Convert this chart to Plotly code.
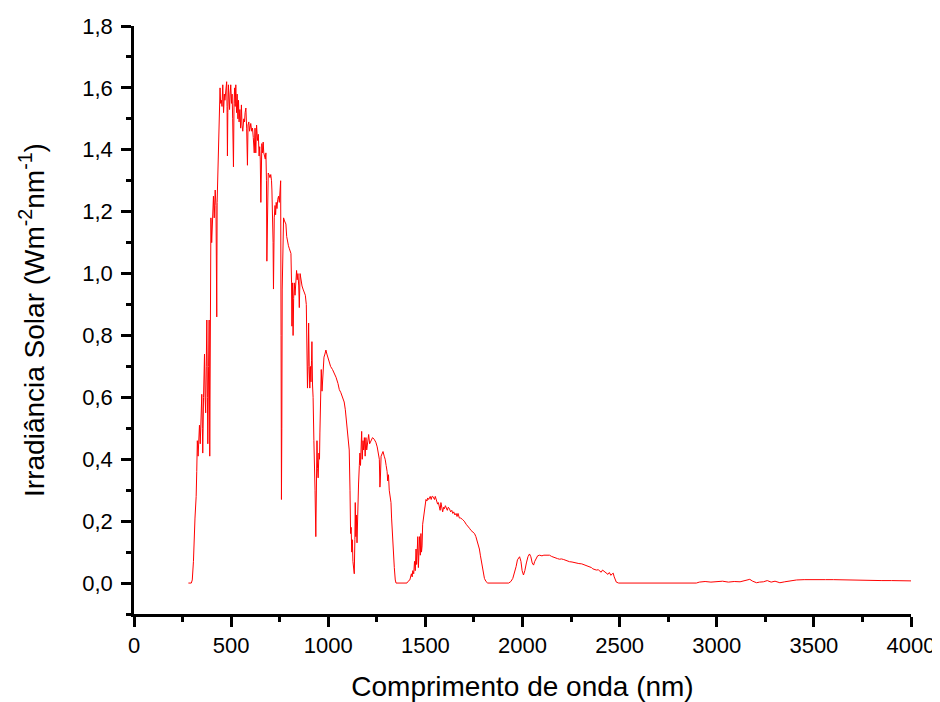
import plotly.graph_objects as go

wavelength = [
    280, 295, 300, 306, 314, 320, 323, 326, 330, 334, 337, 341, 345, 349, 352, 354, 358, 363, 366, 369,
    372, 375, 378, 380, 384, 387, 390, 393, 396, 400, 404, 409, 413, 418, 422, 426, 428, 431, 437, 440,
    443, 446, 450, 453, 457, 461, 465, 468, 472, 477, 479, 481, 483, 486, 489, 492, 495, 498, 502, 505,
    508, 512, 515, 518, 521, 524, 528, 531, 535, 538, 541, 545, 549, 553, 556, 560, 565, 569, 572, 576,
    580, 584, 587, 591, 595, 598, 601, 606, 610, 614, 619, 623, 627, 631, 636, 640, 644, 647, 650, 653,
    656, 658, 662, 665, 668, 672, 676, 679, 682, 684, 687, 691, 695, 700, 704, 708, 710, 713, 716, 718,
    720, 722, 726, 729, 732, 736, 740, 744, 748, 752, 755, 757, 759, 761, 763, 766, 770, 775, 782, 786,
    790, 795, 800, 805, 808, 811, 813, 816, 819, 822, 825, 829, 833, 837, 840, 844, 848, 851, 855, 860,
    865, 870, 876, 882, 887, 890, 893, 896, 899, 902, 905, 908, 911, 914, 916, 919, 922, 926, 929, 932,
    936, 939, 942, 945, 948, 952, 955, 957, 960, 964, 968, 971, 975, 978, 983, 988, 993, 998, 1005, 1012,
    1022, 1030, 1040, 1050, 1057, 1065, 1074, 1082, 1088, 1091, 1096, 1100, 1104, 1108, 1112, 1115, 1118, 1121, 1124, 1127,
    1130, 1134, 1137, 1139, 1142, 1145, 1148, 1151, 1154, 1156, 1160, 1163, 1166, 1169, 1172, 1175, 1179, 1182, 1186, 1190,
    1194, 1198, 1203, 1208, 1213, 1220, 1228, 1236, 1245, 1252, 1258, 1263, 1266, 1268, 1272, 1277, 1282, 1288, 1293, 1298,
    1303, 1306, 1310, 1314, 1318, 1323, 1326, 1329, 1332, 1336, 1340, 1345, 1349, 1405, 1410, 1420, 1428, 1432, 1435, 1440,
    1444, 1448, 1452, 1455, 1459, 1461, 1464, 1467, 1470, 1474, 1477, 1480, 1483, 1486, 1490, 1495, 1500, 1503, 1508, 1512,
    1517, 1521, 1525, 1530, 1534, 1538, 1542, 1547, 1551, 1555, 1559, 1563, 1567, 1572, 1576, 1580, 1584, 1589, 1594, 1598,
    1603, 1608, 1613, 1618, 1624, 1630, 1636, 1641, 1646, 1652, 1658, 1663, 1668, 1675, 1682, 1692, 1700, 1710, 1720, 1727,
    1735, 1745, 1753, 1760, 1765, 1770, 1778, 1783, 1787, 1792, 1797, 1804, 1812, 1821, 1929, 1940, 1950, 1958, 1967, 1974,
    1985, 1992, 1998, 2005, 2012, 2020, 2028, 2036, 2043, 2050, 2057, 2063, 2070, 2078, 2088, 2100, 2110, 2120, 2130, 2139,
    2150, 2160, 2170, 2180, 2191, 2200, 2212, 2225, 2242, 2255, 2265, 2277, 2290, 2305, 2320, 2335, 2345, 2355, 2362, 2370,
    2380, 2390, 2397, 2405, 2412, 2420, 2431, 2440, 2447, 2455, 2462, 2467, 2472, 2478, 2483, 2495, 2507, 2895, 2910, 2940,
    2970, 3000, 3030, 3060, 3090, 3120, 3150, 3170, 3185, 3205, 3220, 3240, 3260, 3280, 3300, 3325, 3350, 3380, 3411, 3450,
    3500, 3531, 3560, 3600, 3650, 3700, 3750, 3800, 3850, 3900, 3950, 4000,
]

irradiance = [
    0.0, 0.0, 0.01, 0.07, 0.21, 0.28, 0.36, 0.46, 0.41, 0.48, 0.51, 0.45, 0.55, 0.61, 0.50, 0.42, 0.60, 0.74, 0.60, 0.55,
    0.70, 0.85, 0.60, 0.45, 0.70, 0.85, 0.41, 0.90, 1.18, 1.10, 1.20, 1.25, 1.18, 1.27, 1.22, 0.86, 1.23, 1.30, 1.37, 1.45,
    1.60, 1.55, 1.56, 1.54, 1.61, 1.52, 1.58, 1.56, 1.605, 1.62, 1.54, 1.38, 1.52, 1.61, 1.57, 1.53, 1.58, 1.61, 1.55, 1.58,
    1.50, 1.345, 1.55, 1.60, 1.54, 1.61, 1.52, 1.58, 1.50, 1.56, 1.49, 1.53, 1.47, 1.545, 1.48, 1.46, 1.50, 1.49, 1.52, 1.535,
    1.47, 1.35, 1.48, 1.49, 1.46, 1.47, 1.485, 1.46, 1.47, 1.44, 1.39, 1.47, 1.39, 1.48, 1.43, 1.45, 1.38, 1.41, 1.37, 1.23,
    1.35, 1.42, 1.39, 1.425, 1.39, 1.38, 1.37, 1.39, 1.30, 1.04, 1.27, 1.325, 1.32, 1.31, 1.32, 1.30, 1.27, 1.20, 1.10, 0.95,
    1.15, 1.18, 1.22, 1.19, 1.23, 1.21, 1.24, 1.25, 1.23, 1.28, 1.30, 0.80, 0.27, 0.50, 0.95, 1.17, 1.18, 1.17, 1.16, 1.12,
    1.10, 1.09, 1.08, 1.07, 1.065, 0.97, 0.83, 0.97, 0.80, 0.92, 0.97, 0.93, 0.99, 1.01, 0.98, 1.00, 0.96, 0.89, 1.00, 0.97,
    0.96, 0.95, 0.94, 0.93, 0.90, 0.80, 0.63, 0.70, 0.84, 0.70, 0.63, 0.70, 0.65, 0.72, 0.78, 0.64, 0.60, 0.46, 0.40, 0.30,
    0.15, 0.30, 0.46, 0.37, 0.34, 0.42, 0.40, 0.485, 0.55, 0.69, 0.62, 0.66, 0.70, 0.73, 0.74, 0.753, 0.74, 0.73, 0.72, 0.70,
    0.69, 0.68, 0.665, 0.645, 0.625, 0.615, 0.60, 0.585, 0.56, 0.54, 0.51, 0.48, 0.46, 0.43, 0.30, 0.16, 0.18, 0.10, 0.14, 0.07,
    0.05, 0.03, 0.14, 0.26, 0.15, 0.22, 0.13, 0.23, 0.28, 0.32, 0.38, 0.42, 0.38, 0.44, 0.49, 0.40, 0.46, 0.43, 0.47, 0.41,
    0.47, 0.43, 0.45, 0.48, 0.45, 0.46, 0.47, 0.465, 0.455, 0.44, 0.41, 0.40, 0.31, 0.33, 0.41, 0.42, 0.425, 0.41, 0.40, 0.38,
    0.36, 0.33, 0.35, 0.30, 0.28, 0.26, 0.21, 0.17, 0.16, 0.12, 0.05, 0.01, 0.0, 0.0, 0.005, 0.01, 0.03, 0.02, 0.04, 0.03,
    0.07, 0.04, 0.11, 0.06, 0.13, 0.15, 0.05, 0.12, 0.15, 0.09, 0.16, 0.10, 0.12, 0.19, 0.21, 0.225, 0.25, 0.27, 0.265, 0.275,
    0.27, 0.275, 0.28, 0.27, 0.28, 0.28, 0.275, 0.27, 0.28, 0.27, 0.26, 0.255, 0.26, 0.25, 0.235, 0.26, 0.25, 0.23, 0.245, 0.24,
    0.25, 0.24, 0.235, 0.245, 0.24, 0.23, 0.235, 0.225, 0.23, 0.22, 0.225, 0.215, 0.225, 0.21, 0.21, 0.205, 0.20, 0.19, 0.18, 0.177,
    0.17, 0.165, 0.16, 0.15, 0.14, 0.13, 0.11, 0.09, 0.075, 0.05, 0.03, 0.015, 0.005, 0.0, 0.0, 0.005, 0.015, 0.03, 0.053, 0.075,
    0.085, 0.07, 0.04, 0.026, 0.04, 0.065, 0.085, 0.094, 0.085, 0.065, 0.058, 0.07, 0.08, 0.088, 0.09, 0.088, 0.09, 0.09, 0.088, 0.09,
    0.086, 0.083, 0.082, 0.079, 0.077, 0.078, 0.076, 0.072, 0.069, 0.068, 0.066, 0.064, 0.063, 0.062, 0.058, 0.056, 0.053, 0.05, 0.046, 0.044,
    0.042, 0.043, 0.038, 0.035, 0.042, 0.038, 0.032, 0.028, 0.034, 0.025, 0.03, 0.032, 0.02, 0.01, 0.003, 0.0, 0.0, 0.0, 0.003, 0.005,
    0.003, 0.004, 0.006, 0.003, 0.005, 0.004, 0.008, 0.012, 0.006, 0.001, 0.003, 0.004, 0.008, 0.003, 0.006, 0.001, 0.004, 0.007, 0.01, 0.011,
    0.012, 0.012, 0.011, 0.011, 0.01, 0.01, 0.009, 0.009, 0.008, 0.008, 0.008, 0.007,
]

x_tick_vals = [0, 500, 1000, 1500, 2000, 2500, 3000, 3500, 4000]
y_tick_vals = [0.0, 0.2, 0.4, 0.6, 0.8, 1.0, 1.2, 1.4, 1.6, 1.8]
y_tick_text = ["0,0", "0,2", "0,4", "0,6", "0,8", "1,0", "1,2", "1,4", "1,6", "1,8"]

fig = go.Figure()
fig.add_trace(go.Scatter(
    x=wavelength, y=irradiance, mode="lines",
    line=dict(color="#ff0000", width=1),
    showlegend=False,
))

font_family = "Liberation Sans, Arial, sans-serif"

# page body has an 8px default margin, so the figure is offset by 8px
fig.update_layout(
    width=940, height=702,
    margin=dict(l=126, r=37, t=18, b=96),
    paper_bgcolor="white", plot_bgcolor="white",
    font=dict(family=font_family, color="black", size=22),
    xaxis=dict(
        range=[0, 4000], tickvals=x_tick_vals, automargin=False,
        showline=True, linecolor="black", linewidth=2.5,
        ticks="outside", ticklen=10, tickwidth=2.5, tickcolor="black",
        minor=dict(dtick=250, ticks="outside", ticklen=5, tickwidth=2.5, tickcolor="black", showgrid=False),
        showgrid=False, zeroline=False, mirror=False,
        tickfont=dict(size=22), ticklabelstandoff=0,
        title=dict(text="Comprimento de onda (nm)", font=dict(size=28), standoff=20),
    ),
    yaxis=dict(
        range=[-0.1, 1.8], tickvals=y_tick_vals, ticktext=y_tick_text, automargin=False,
        showline=True, linecolor="black", linewidth=2.5,
        ticks="outside", ticklen=10, tickwidth=2.5, tickcolor="black",
        minor=dict(tick0=-0.1, dtick=0.1, ticks="outside", ticklen=5, tickwidth=2.5, tickcolor="black", showgrid=False),
        showgrid=False, zeroline=False, mirror=False,
        tickfont=dict(size=22), ticklabelstandoff=4,
        title=dict(text="Irradiância Solar (Wm<sup>-2</sup>nm<sup>-1</sup>)", font=dict(size=28), standoff=30),
    ),
)

fig.write_html("out.html")
